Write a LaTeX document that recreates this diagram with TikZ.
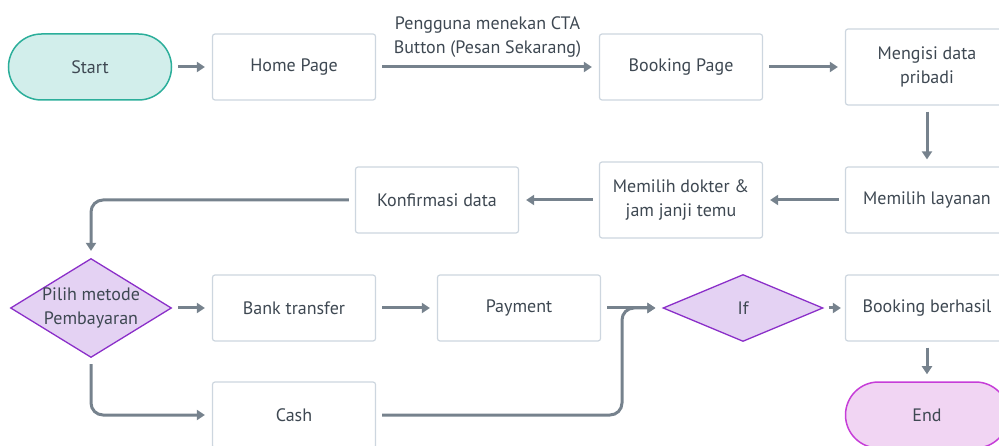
\documentclass[tikz,border=0pt]{standalone}
\usepackage{fontspec}
\setmainfont{PT Sans}
\usetikzlibrary{shapes.geometric,arrows.meta}
\definecolor{arr}{HTML}{76828D}
\definecolor{boxline}{HTML}{CDD6DF}
\definecolor{txt}{HTML}{3E4852}
\definecolor{startfill}{HTML}{D2EEEB}
\definecolor{startline}{HTML}{2BAE9A}
\definecolor{dfill}{HTML}{E4D2F3}
\definecolor{dline}{HTML}{8B2FC9}
\definecolor{endfill}{HTML}{F1D5F3}
\definecolor{endline}{HTML}{C63ED8}
\begin{document}
\begin{tikzpicture}[x=1pt,y=-1pt,
  base/.style={text=txt, font=\fontsize{18}{24}\selectfont, align=center},
  box/.style={base, draw=boxline, line width=1.2pt, fill=white, rounded corners=2.5pt, minimum width=163pt, minimum height=66pt},
  tallbox/.style={box, minimum height=76pt},
  pill/.style={base, draw, line width=1.5pt, rounded corners=33pt, minimum width=163pt, minimum height=66pt},
  dia/.style={base, diamond, draw=dline, fill=dfill, line width=1.3pt, inner sep=0pt},
  ar/.style={draw=arr, line width=3pt, -{Triangle[length=8pt,width=10pt]}, shorten <=6pt, shorten >=7pt},
]
\useasboundingbox (0,0) rectangle (999,446);
\clip (0,0) rectangle (999,446);
% row 1
\node[pill, draw=startline, fill=startfill] (start) at (90,67) {Start};
\node[box] (home) at (294,67) {Home Page};
\node[box] (booking) at (681,67) {Booking Page};
\node[tallbox] (mengisi) at (927,67) {Mengisi data\\pribadi};
% row 2
\node[box] (layanan) at (927,200) {Memilih layanan};
\node[tallbox] (dokter) at (681,200) {Memilih dokter \&\\jam janji temu};
\node[box] (konfirmasi) at (437,200) {Konfirmasi data};
% row 3
\node[dia, minimum width=161pt, minimum height=99pt] (pilih) at (91,308) {};
\node[base] (pilihtext) at (91,308) {Pilih metode\\Pembayaran};
\node[box] (bank) at (294,308) {Bank transfer};
\node[box] (payment) at (519,308) {Payment};
\node[dia, minimum width=160pt, minimum height=67pt] (if) at (743,308) {If};
\node[box] (berhasil) at (927,308) {Booking berhasil};
% row 4
\node[box] (cash) at (294,415) {Cash};
\node[pill, draw=endline, fill=endfill] (end) at (927,415) {End};
\coordinate (join) at (622,308);
% connectors
\draw[ar] (start) -- (home);
\draw[ar] (home) -- node[base, above=5pt] {Pengguna menekan CTA\\Button (Pesan Sekarang)} (booking);
\draw[ar] (booking) -- (mengisi);
\draw[ar] (mengisi) -- (layanan);
\draw[ar] (layanan) -- (dokter);
\draw[ar] (dokter) -- (konfirmasi);
\draw[ar, rounded corners=12pt] (konfirmasi.west) -| (pilih.north);
\draw[ar] (pilih) -- (bank);
\draw[ar] (bank) -- (payment);
\draw[ar] (payment) -- (if);
\draw[ar, shorten <=5pt, shorten >=4pt] (if) -- (berhasil);
\draw[ar] (berhasil) -- (end);
\draw[ar, rounded corners=12pt] (pilih.south) |- (cash.west);
\draw[ar, rounded corners=12pt] (cash.east) -| (join) -- (if.west);
\end{tikzpicture}
\end{document}
